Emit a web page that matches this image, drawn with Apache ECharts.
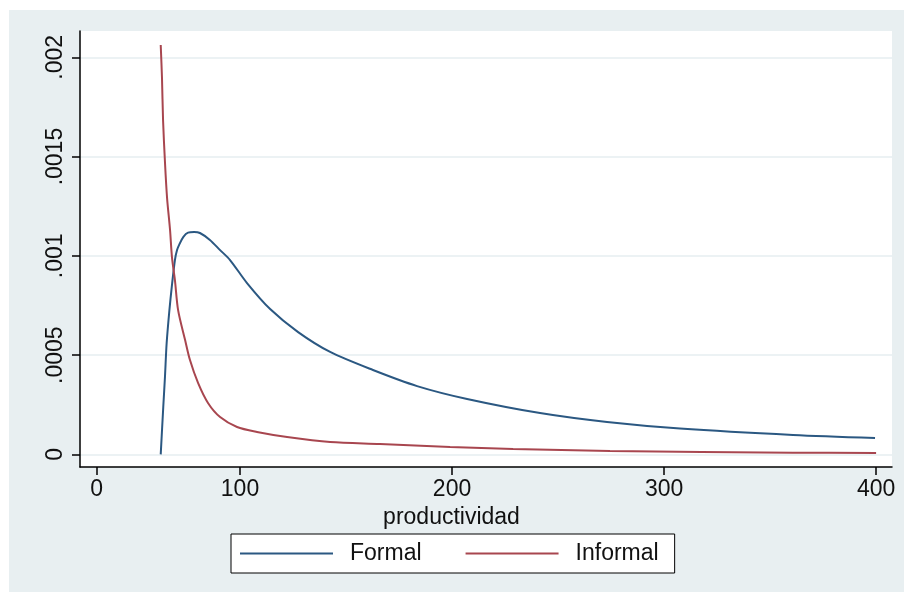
<!DOCTYPE html>
<html>
<head>
<meta charset="utf-8">
<script src="https://cdn.jsdelivr.net/npm/echarts@6/dist/echarts.min.js"></script>
<style>
html,body{margin:0;padding:0;background:#fff;}
#chart{width:904px;height:592px;}
</style>
</head>
<body>
<div id="chart"></div>
<script>
// ---- data ----
const formalX = [62.6, 63.8, 64.6, 65.4, 66.7, 67.8, 69.3, 70.3, 71.5, 73.3, 75.5, 78.3, 81.1, 85.8, 90.6, 95.3, 103.3, 114.2, 127.4, 142.5, 162.7, 183.5, 207.1, 241.5, 273.1, 307.5, 360.8, 399.5];
const formalY = [0.0000, 0.000239, 0.000390, 0.000561, 0.000727, 0.000843, 0.000979, 0.001029, 0.001060, 0.001096, 0.001117, 0.001120, 0.001115, 0.001080, 0.001029, 0.000979, 0.000863, 0.000732, 0.000616, 0.000516, 0.000425, 0.000344, 0.000279, 0.000208, 0.000163, 0.000130, 0.0000977, 0.0000826];
const informalX = [62.6, 63.2, 63.7, 64.6, 65.6, 67.0, 67.9, 69.3, 70.8, 74.1, 76.4, 80.2, 84.9, 90.6, 98.6, 108.0, 122.2, 142.5, 166.0, 199.1, 228.8, 274.5, 360.8, 400.0];
const informalY = [0.002062, 0.001896, 0.001684, 0.001473, 0.001291, 0.001130, 0.000994, 0.000878, 0.000727, 0.000576, 0.000475, 0.000360, 0.000259, 0.000188, 0.000138, 0.000113, 0.0000876, 0.0000624, 0.0000524, 0.0000373, 0.0000272, 0.0000171, 0.0000086, 0.0000070];
const seriesNames = ['Formal', 'Informal'];
const xTickValues = [32.4, 100, 200, 300, 400];
const xTickLabels = ['0', '100', '200', '300', '400'];
const yTickValues = [0, 0.0005, 0.001, 0.0015, 0.002];
const yTickLabels = ['0', '.0005', '.001', '.0015', '.002'];
const xTitle = 'productividad';

// ---- chart ----
const zip = (xs, ys) => xs.map((x, i) => [x, ys[i]]);
const FONT = "'Liberation Sans', Arial, sans-serif";
const chart = echarts.init(document.getElementById('chart'), null, {renderer: 'canvas'});
const xLabelMap = {}; xTickValues.forEach((v, i) => xLabelMap[v] = xTickLabels[i]);
const yLabelMap = {}; yTickValues.forEach((v, i) => yLabelMap[v] = yTickLabels[i]);

chart.setOption({
  backgroundColor: '#ffffff',
  animation: false,
  graphic: [{
    type: 'rect', z: -100, silent: true,
    shape: {x: 9, y: 10, width: 895, height: 582},
    style: {fill: '#E8EFF1'}
  }],
  grid: {
    left: 80, right: 12, top: 31, bottom: 125,
    show: true, backgroundColor: '#ffffff', borderWidth: 0
  },
  legend: {
    left: 231, top: 534,
    data: seriesNames,
    icon: 'rect', itemWidth: 93, itemHeight: 2, itemGap: 44,
    padding: [8, 16, 8, 9],
    backgroundColor: '#ffffff', borderColor: '#000000', borderWidth: 1, borderRadius: 0,
    textStyle: {fontFamily: FONT, fontSize: 23, color: '#111', padding: [0, 0, 0, 12]}
  },
  xAxis: {
    type: 'value', min: 24.53, max: 407.5,
    name: xTitle, nameLocation: 'middle', nameGap: 31,
    nameTextStyle: {fontFamily: FONT, fontSize: 23, color: '#111', padding: [0, 69, 0, 0]},
    axisLine: {show: true, onZero: false, lineStyle: {color: '#000', width: 1.5}},
    axisTick: {show: true, length: 8, lineStyle: {color: '#000', width: 1.5}, customValues: xTickValues},
    axisLabel: {customValues: xTickValues, margin: 11, fontFamily: FONT, fontSize: 23, color: '#111',
      formatter: v => xLabelMap[v] !== undefined ? xLabelMap[v] : ''},
    splitLine: {show: false}
  },
  yAxis: {
    type: 'value', min: -0.0000635, max: 0.0021325,
    axisLine: {show: true, onZero: false, lineStyle: {color: '#000', width: 1.5}},
    axisTick: {show: true, length: 8, lineStyle: {color: '#000', width: 1.5}, customValues: yTickValues},
    axisLabel: {customValues: yTickValues, rotate: 90, margin: 13, fontFamily: FONT, fontSize: 23, color: '#111',
      formatter: v => yLabelMap[v] !== undefined ? yLabelMap[v] : ''},
    splitLine: {show: true, lineStyle: {color: '#E6EEF1', width: 1.5}}
  },
  series: [
    {name: seriesNames[0], type: 'line', data: zip(formalX, formalY), showSymbol: false, smooth: 0.3,
      lineStyle: {color: '#2B5882', width: 2}, itemStyle: {color: '#2B5882'}},
    {name: seriesNames[1], type: 'line', data: zip(informalX, informalY), showSymbol: false, smooth: 0.3,
      lineStyle: {color: '#A8464F', width: 2}, itemStyle: {color: '#A8464F'}}
  ]
});
</script>
</body>
</html>
